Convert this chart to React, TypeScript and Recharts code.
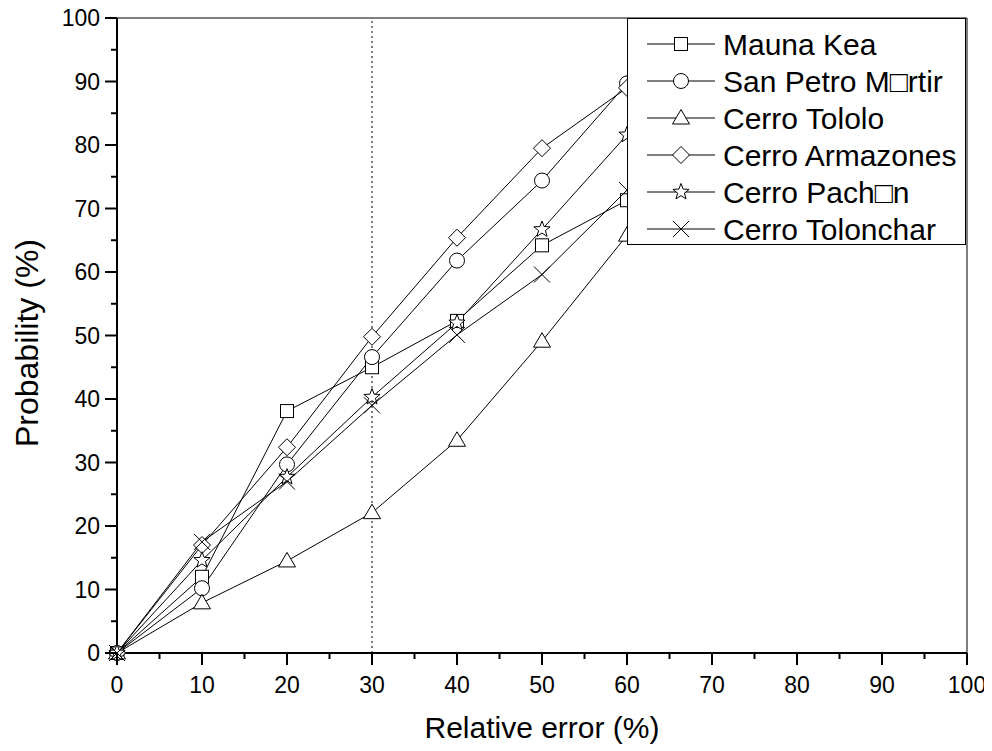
import React from "react";
import { LineChart, Line, XAxis, YAxis, ReferenceLine, Legend, Label } from "recharts";

const relErr = [0, 10, 20, 30, 40, 50, 60];
const maunaKea = [0, 12.0, 38.1, 45.0, 52.3, 64.2, 71.3];
const sanPetro = [0, 10.2, 29.7, 46.6, 61.8, 74.4, 89.7];
const cerroTololo = [0, 7.9, 14.5, 22.1, 33.5, 49.1, 65.8];
const cerroArmazones = [0, 17.0, 32.4, 49.8, 65.4, 79.5, 89.0];
const cerroPachon = [0, 14.6, 27.7, 40.3, 52.0, 66.7, 81.6];
const cerroTolonchar = [0, 17.5, 27.0, 39.0, 50.1, 59.6, 72.9];
const axisTicks = [0, 5, 10, 15, 20, 25, 30, 35, 40, 45, 50, 55, 60, 65, 70, 75, 80, 85, 90, 95, 100];

const seriesNames = [
  "Mauna Kea",
  "San Petro M\u25A1rtir",
  "Cerro Tololo",
  "Cerro Armazones",
  "Cerro Pach\u25A1n",
  "Cerro Tolonchar",
];
const seriesShapes = ["square", "circle", "triangle", "diamond", "star", "cross"];
const seriesValues = [maunaKea, sanPetro, cerroTololo, cerroArmazones, cerroPachon, cerroTolonchar];
const seriesKeys = ["mk", "sp", "ct", "ca", "cp", "tc"];

const data = relErr.map((x, i) => {
  const row: any = { x };
  seriesKeys.forEach((k, j) => (row[k] = seriesValues[j][i]));
  return row;
});

const FONT = "Arial, 'Liberation Sans', sans-serif";

function starPoints(cx: number, cy: number, ro: number, ri: number) {
  const pts: string[] = [];
  for (let i = 0; i < 10; i++) {
    const r = i % 2 === 0 ? ro : ri;
    const a = -Math.PI / 2 + (i * Math.PI) / 5;
    pts.push(`${cx + r * Math.cos(a)},${cy + r * Math.sin(a)}`);
  }
  return pts.join(" ");
}

function Marker({ shape, cx, cy }: { shape: string; cx: number; cy: number }) {
  const st = { fill: "#fff", stroke: "#000", strokeWidth: 1 };
  switch (shape) {
    case "square":
      return <rect x={cx - 6.5} y={cy - 6.5} width={13} height={13} {...st} />;
    case "circle":
      return <circle cx={cx} cy={cy} r={7.5} {...st} />;
    case "triangle":
      return <polygon points={`${cx},${cy - 8.5} ${cx - 8.5},${cy + 6} ${cx + 8.5},${cy + 6}`} {...st} />;
    case "diamond":
      return <polygon points={`${cx},${cy - 8.5} ${cx + 8.5},${cy} ${cx},${cy + 8.5} ${cx - 8.5},${cy}`} {...st} />;
    case "star":
      return <polygon points={starPoints(cx, cy, 8.5, 3.6)} {...st} />;
    case "cross":
      return (
        <g stroke="#000" strokeWidth={1}>
          <line x1={cx - 8} y1={cy - 8} x2={cx + 8} y2={cy + 8} />
          <line x1={cx - 8} y1={cy + 8} x2={cx + 8} y2={cy - 8} />
        </g>
      );
    default:
      return null;
  }
}

const YTick = (props: any) => {
  const { x, y, payload } = props;
  const v = payload.value;
  const major = v % 10 === 0;
  return (
    <g>
      <line x1={x} x2={x - (major ? 12 : 6)} y1={y} y2={y} stroke="#000" strokeWidth={2} />
      {major && (
        <text x={x - 17} y={y} dy="0.36em" textAnchor="end" fontSize={23} fontFamily={FONT} fill="#000">
          {v}
        </text>
      )}
    </g>
  );
};

const XTick = (props: any) => {
  const { x, y, payload } = props;
  const v = payload.value;
  const major = v % 10 === 0;
  return (
    <g>
      <line x1={x} x2={x} y1={y} y2={y + (major ? 12 : 6)} stroke="#000" strokeWidth={2} />
      {major && (
        <text x={x} y={y + 40} textAnchor="middle" fontSize={23} fontFamily={FONT} fill="#000">
          {v}
        </text>
      )}
    </g>
  );
};

const LegendBox = () => (
  <svg width={340} height={228} style={{ display: "block" }}>
    <rect x={0.5} y={0.5} width={338} height={226} fill="#fff" stroke="#000" strokeWidth={1} />
    {seriesNames.map((name, i) => {
      const cy = 26 + i * 37;
      return (
        <g key={name}>
          <line x1={20} x2={88} y1={cy} y2={cy} stroke="#000" strokeWidth={1} />
          <Marker shape={seriesShapes[i]} cx={54} cy={cy} />
          <text x={96} y={cy} dy="0.36em" fontSize={30} fontFamily={FONT} fill="#000">
            {name}
          </text>
        </g>
      );
    })}
  </svg>
);

export default function App() {
  return (
    <div style={{ fontFamily: FONT }}>
      <style>{`.recharts-surface { overflow: visible; }`}</style>
      <LineChart
        width={984}
        height={743}
        data={data}
        margin={{ top: 10, right: 25, bottom: 38, left: 0 }}
      >
        <XAxis
          dataKey="x"
          type="number"
          domain={[0, 100]}
          ticks={axisTicks}
          interval={0}
          height={60}
          tickSize={0}
          tickMargin={0}
          tick={<XTick />}
          axisLine={{ stroke: "#000", strokeWidth: 2 }}
        >
          <Label
            content={() => (
              <text x={534} y={719} dy="0.36em" textAnchor="middle" fontSize={30} fontFamily={FONT} fill="#000">
                Relative error (%)
              </text>
            )}
          />
        </XAxis>
        <YAxis
          type="number"
          domain={[0, 100]}
          ticks={axisTicks}
          interval={0}
          width={109}
          tickSize={0}
          tickMargin={0}
          tick={<YTick />}
          axisLine={{ stroke: "#000", strokeWidth: 2 }}
        >
          <Label
            content={() => (
              <text
                x={18}
                y={335}
                dy="0.36em"
                textAnchor="middle"
                fontSize={32}
                fontFamily={FONT}
                fill="#000"
                transform="rotate(-90 18 335)"
              >
                Probability (%)
              </text>
            )}
          />
        </YAxis>
        <ReferenceLine y={100} stroke="#000" strokeWidth={1} />
        <ReferenceLine x={100} stroke="#000" strokeWidth={1} />
        <ReferenceLine x={30} stroke="#000" strokeWidth={1} strokeDasharray="2 3" />
        {seriesKeys.map((k, j) => (
          <Line
            key={k}
            dataKey={k}
            name={seriesNames[j]}
            stroke="#000"
            strokeWidth={1}
            isAnimationActive={false}
            dot={(p: any) => <Marker key={`${k}-${p.index}`} shape={seriesShapes[j]} cx={p.cx} cy={p.cy} />}
            activeDot={false}
          />
        ))}
        <Legend
          layout="vertical"
          align="center"
          verticalAlign="middle"
          content={() => <LegendBox />}
          wrapperStyle={{ position: "absolute", left: 619, top: 10, width: 340, height: 228 }}
        />
      </LineChart>
    </div>
  );
}
